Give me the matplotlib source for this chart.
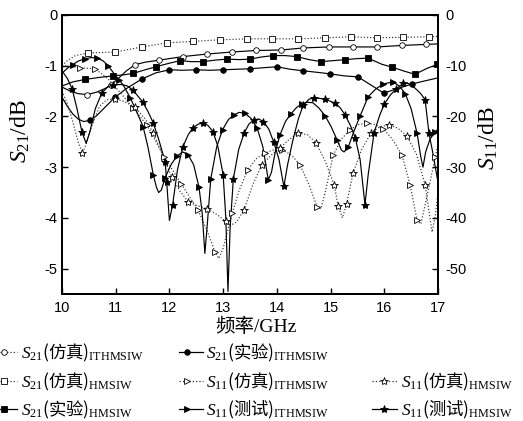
import matplotlib
matplotlib.use("Agg")
import matplotlib.pyplot as plt
from matplotlib.lines import Line2D

plt.rcParams['mathtext.fontset'] = 'custom'
plt.rcParams['mathtext.rm'] = 'Liberation Serif'
plt.rcParams['mathtext.it'] = 'Liberation Serif:italic'
plt.rcParams['font.family'] = ['Liberation Sans']

# === S21 (left axis, dB) ===
# S21 仿真 ITHMSIW (open circle)
s21_sim_ith_x = [10.0, 10.15, 10.3, 10.47, 10.65, 10.8, 10.91, 11.05, 11.2, 11.36, 11.55, 11.81,
                 12.25, 12.7, 13.16, 13.61, 14.08, 14.49, 14.97, 15.42, 15.87, 16.33, 16.78, 17.0]
s21_sim_ith_y = [-1.42, -1.5, -1.55, -1.57, -1.52, -1.45, -1.38, -1.25, -1.1, -0.98, -0.93, -0.89,
                 -0.82, -0.77, -0.73, -0.70, -0.69, -0.65, -0.63, -0.63, -0.63, -0.60, -0.58, -0.57]
s21_sim_ith_mx = [10.47, 10.91, 11.36, 11.81, 12.25, 12.7, 13.16, 13.61, 14.08, 14.49, 14.97, 15.42, 15.87, 16.33, 16.78]
s21_sim_ith_my = [-1.57, -1.38, -0.98, -0.89, -0.82, -0.77, -0.73, -0.70, -0.69, -0.65, -0.63, -0.63, -0.63, -0.60, -0.58]

# S21 仿真 HMSIW (open square)
s21_sim_hm_x = [10.0, 10.1, 10.25, 10.48, 10.99, 11.49, 11.95, 12.44, 12.94, 13.44, 13.91, 14.39,
                14.9, 15.38, 15.87, 16.35, 16.83, 17.0]
s21_sim_hm_y = [-1.0, -0.9, -0.8, -0.75, -0.73, -0.63, -0.55, -0.52, -0.49, -0.47, -0.47, -0.47,
                -0.45, -0.43, -0.45, -0.44, -0.43, -0.42]
s21_sim_hm_mx = s21_sim_hm_x[3:-1]
s21_sim_hm_my = s21_sim_hm_y[3:-1]

# S21 实验 ITHMSIW (filled circle)
s21_exp_ith_x = [10.0, 10.1, 10.2, 10.3, 10.4, 10.52, 10.65, 10.8, 10.99, 11.2, 11.49, 11.75, 12.0,
                 12.25, 12.5, 12.75, 13.0, 13.25, 13.5, 13.75, 14.0, 14.25, 14.49, 14.75, 14.99,
                 15.25, 15.51, 15.75, 15.99, 16.25, 16.52, 16.75, 17.0]
s21_exp_ith_y = [-1.62, -1.8, -1.95, -2.05, -2.1, -2.08, -1.98, -1.82, -1.62, -1.45, -1.26, -1.14, -1.08,
                 -1.09, -1.08, -1.09, -1.08, -1.07, -1.06, -1.04, -1.02, -1.07, -1.1, -1.13, -1.16,
                 -1.2, -1.22, -1.38, -1.54, -1.45, -1.36, -1.3, -1.24]
s21_exp_ith_mx = [10.52, 10.99, 11.49, 12.0, 12.5, 13.0, 13.5, 14.0, 14.49, 14.99, 15.51, 15.99, 16.52]
s21_exp_ith_my = [-2.08, -1.62, -1.26, -1.08, -1.08, -1.08, -1.06, -1.02, -1.1, -1.16, -1.22, -1.54, -1.36]

# S21 实验 HMSIW (filled square)
s21_exp_hm_x = [10.0, 10.2, 10.43, 10.7, 10.95, 11.15, 11.33, 11.55, 11.75, 12.0, 12.2, 12.4, 12.63,
                12.85, 13.07, 13.3, 13.5, 13.7, 13.93, 14.15, 14.37, 14.6, 14.82, 15.05, 15.27,
                15.5, 15.7, 15.95, 16.15, 16.35, 16.57, 16.8, 17.0]
s21_exp_hm_y = [-1.4, -1.32, -1.27, -1.23, -1.2, -1.18, -1.15, -1.08, -1.02, -0.95, -0.9, -0.92, -0.92,
                -0.89, -0.87, -0.88, -0.87, -0.83, -0.8, -0.8, -0.82, -0.88, -0.92, -0.9, -0.88,
                -0.86, -0.85, -0.97, -1.03, -1.1, -1.17, -1.05, -0.97]
s21_exp_hm_mx = [10.43, 10.95, 11.33, 11.75, 12.2, 12.63, 13.07, 13.5, 13.93, 14.37, 14.82, 15.27, 15.7, 16.15, 16.57, 16.98]
s21_exp_hm_my = [-1.27, -1.2, -1.15, -1.02, -0.9, -0.92, -0.87, -0.87, -0.8, -0.82, -0.92, -0.88, -0.85, -1.03, -1.17, -0.97]

# === S11 (right axis, dB) ===
# S11 仿真 ITHMSIW (open triangle)
s11_sim_ith_x = [10.0, 10.15, 10.33, 10.61, 10.85, 11.1, 11.33, 11.58, 11.9, 12.22, 12.53, 12.7, 12.85,
                 12.92, 13.0, 13.17, 13.3, 13.46, 13.62, 13.78, 13.94, 14.1, 14.27, 14.43, 14.6,
                 14.75, 14.82, 14.9, 15.05, 15.2, 15.36, 15.52, 15.68, 15.83, 15.98, 16.15, 16.33,
                 16.48, 16.61, 16.68, 16.78, 16.95, 17.0]
s11_sim_ith_y = [-10.0, -10.1, -10.4, -10.6, -12.5, -15.5, -18.4, -21.7, -27.9, -33.3, -38.4, -42.5, -46.7,
                 -48.0, -46.0, -39.0, -34.5, -30.5, -28.3, -27.2, -26.6, -26.6, -27.6, -29.5, -33.5,
                 -37.8, -38.2, -35.0, -27.6, -24.5, -22.6, -21.6, -21.3, -21.6, -22.4, -24.5, -27.6,
                 -33.5, -40.4, -41.2, -36.5, -28.0, -25.5]
s11_sim_ith_mx = [10.33, 10.61, 11.33, 11.58, 11.9, 12.22, 12.53, 12.85, 13.17, 13.46, 13.78, 14.1, 14.43,
                  14.75, 15.05, 15.36, 15.68, 15.98, 16.33, 16.48, 16.61, 16.95]
s11_sim_ith_my = [-10.4, -10.6, -18.4, -21.7, -27.9, -33.3, -38.4, -46.7, -39.0, -30.5, -27.2, -26.6, -29.5,
                  -37.8, -27.6, -22.6, -21.3, -22.4, -27.6, -33.5, -40.4, -28.0]

# S11 仿真 HMSIW (open star)
s11_sim_hm_x = [10.0, 10.1, 10.2, 10.3, 10.38, 10.45, 10.55, 10.7, 10.83, 10.99, 11.15, 11.36, 11.55,
                11.7, 11.87, 12.04, 12.2, 12.35, 12.52, 12.7, 12.88, 13.05, 13.12, 13.25, 13.39,
                13.55, 13.72, 13.9, 14.06, 14.23, 14.4, 14.57, 14.73, 14.9, 15.07, 15.14, 15.22,
                15.3, 15.42, 15.58, 15.75, 15.92, 16.09, 16.25, 16.42, 16.6, 16.76, 16.89, 16.95, 17.0]
s11_sim_hm_y = [-15.0, -17.5, -21.0, -25.0, -27.2, -25.5, -22.0, -18.0, -16.7, -16.6, -17.0, -18.2, -20.5,
                -23.3, -27.5, -31.9, -34.8, -36.8, -37.6, -38.2, -39.3, -40.7, -41.6, -40.8, -38.4,
                -33.5, -29.5, -27.6, -26.2, -24.5, -23.3, -23.6, -25.2, -28.8, -33.6, -37.6, -40.0,
                -37.2, -31.1, -26.5, -23.3, -22.0, -21.7, -22.3, -23.8, -27.5, -33.5, -42.8, -39.5, -35.0]
s11_sim_hm_mx = [10.38, 10.99, 11.36, 11.7, 12.04, 12.35, 12.7, 13.05, 13.39, 13.72, 14.06, 14.4, 14.73,
                 15.07, 15.14, 15.3, 15.42, 15.75, 16.09, 16.42, 16.76]
s11_sim_hm_my = [-27.2, -16.6, -18.2, -23.3, -31.9, -36.8, -38.2, -40.7, -38.4, -29.5, -26.2, -23.3, -25.2,
                 -33.6, -37.6, -37.2, -31.1, -23.3, -21.7, -23.8, -33.5]

# S11 测试 ITHMSIW (filled triangle)
s11_test_ith_x = [10.0, 10.1, 10.2, 10.3, 10.43, 10.55, 10.65, 10.76, 10.86, 11.0, 11.14, 11.27, 11.4,
                  11.51, 11.6, 11.7, 11.76, 11.8, 11.85, 11.92, 12.03, 12.14, 12.25, 12.35, 12.45,
                  12.55, 12.61, 12.66, 12.7, 12.77, 12.88, 12.99, 13.1, 13.2, 13.3, 13.41, 13.52,
                  13.63, 13.74, 13.84, 13.9, 13.97, 14.06, 14.16, 14.26, 14.37, 14.47, 14.57, 14.67,
                  14.78, 14.9, 15.01, 15.12, 15.2, 15.25, 15.33, 15.44, 15.55, 15.7, 15.84, 15.98,
                  16.16, 16.28, 16.39, 16.5, 16.61, 16.68, 16.72, 16.77, 16.85, 16.95, 17.0]
s11_test_ith_y = [-11.5, -10.5, -9.8, -9.1, -8.6, -8.4, -8.5, -9.0, -10.0, -12.0, -13.8, -16.3, -19.3,
                  -22.0, -26.0, -31.5, -34.0, -35.0, -34.5, -32.1, -29.5, -27.8, -27.0, -27.6, -29.5,
                  -33.9, -39.0, -47.0, -42.0, -32.3, -26.0, -22.6, -20.6, -19.7, -19.2, -19.4, -20.4,
                  -22.2, -26.0, -32.5, -31.0, -27.0, -23.6, -21.0, -19.5, -18.2, -17.5, -17.2, -17.3,
                  -18.3, -19.9, -22.0, -24.6, -26.6, -27.0, -26.0, -22.8, -19.9, -16.1, -14.6, -13.6,
                  -13.2, -14.0, -15.5, -18.5, -23.3, -28.0, -30.0, -27.0, -24.5, -23.0, -22.5]
s11_test_ith_mx = [10.2, 10.43, 10.65, 10.86, 11.06, 11.27, 11.51, 11.7, 11.92, 12.14, 12.35, 12.55, 12.77,
                   12.99, 13.2, 13.41, 13.63, 13.84, 14.06, 14.26, 14.47, 14.9, 15.12, 15.33, 15.55,
                   15.7, 15.98, 16.16, 16.39, 16.61, 16.95]
s11_test_ith_my = [-9.8, -8.6, -8.5, -10.0, -12.8, -16.3, -22.0, -31.5, -32.1, -27.8, -27.6, -33.9, -32.3,
                   -22.6, -19.7, -19.4, -22.2, -32.5, -23.6, -19.5, -17.5, -19.9, -24.6, -26.0, -19.9,
                   -16.1, -13.6, -13.2, -15.5, -23.3, -23.0]

# S11 测试 HMSIW (filled star)
s11_test_hm_x = [10.0, 10.1, 10.19, 10.28, 10.37, 10.45, 10.52, 10.62, 10.74, 10.85, 10.95, 11.1, 11.22,
                 11.32, 11.5, 11.6, 11.7, 11.8, 11.92, 11.95, 12.0, 12.06, 12.15, 12.25, 12.35, 12.44,
                 12.54, 12.63, 12.72, 12.81, 12.9, 13.0, 13.05, 13.09, 13.13, 13.19, 13.29, 13.39,
                 13.48, 13.57, 13.66, 13.75, 13.85, 13.94, 14.04, 14.13, 14.2, 14.3, 14.4, 14.49,
                 14.6, 14.7, 14.9, 15.09, 15.18, 15.27, 15.37, 15.46, 15.55, 15.64, 15.7, 15.81,
                 15.92, 16.0, 16.11, 16.22, 16.35, 16.45, 16.56, 16.67, 16.76, 16.83, 16.9, 17.0]
s11_test_hm_y = [-11.0, -12.5, -14.6, -18.5, -23.0, -25.3, -23.0, -18.5, -15.4, -14.2, -13.8, -13.7, -14.0,
                 -14.8, -17.1, -19.0, -21.3, -24.5, -28.9, -33.0, -40.5, -37.4, -30.5, -26.0, -23.6, -22.2,
                 -21.5, -21.3, -21.8, -23.0, -25.8, -31.5, -40.0, -54.5, -42.0, -32.3, -26.5, -23.3,
                 -21.5, -20.7, -20.5, -21.0, -22.5, -25.0, -28.5, -33.8, -29.5, -24.6, -20.5, -17.8,
                 -16.6, -16.3, -16.6, -17.4, -18.3, -19.7, -21.8, -24.2, -28.5, -37.4, -31.5, -23.2,
                 -19.6, -17.6, -15.8, -14.6, -13.5, -13.5, -14.3, -15.4, -16.7, -23.2, -27.0, -33.0]
s11_test_hm_mx = [10.19, 10.37, 10.74, 10.95, 11.32, 11.5, 11.7, 11.92, 11.95, 12.06, 12.25, 12.44, 12.63,
                  12.81, 13.0, 13.19, 13.39, 13.57, 13.75, 13.94, 14.13, 14.49, 14.7, 14.9, 15.09,
                  15.27, 15.46, 15.64, 15.81, 16.0, 16.22, 16.35, 16.76, 16.83]
s11_test_hm_my = [-14.6, -23.0, -15.4, -13.8, -14.8, -17.1, -21.3, -28.9, -33.0, -37.4, -26.0, -22.2, -21.3,
                  -23.0, -31.5, -32.3, -23.3, -20.7, -21.0, -25.0, -33.8, -17.8, -16.3, -16.6, -17.4,
                  -19.7, -24.2, -37.4, -23.2, -17.6, -14.6, -13.5, -16.7, -23.2]

# --- styles: linestyle, marker, facecolor, size ---
st_circle_o = dict(ls=':', marker='o', mfc='white', ms=4.0)
st_square_o = dict(ls=':', marker='s', mfc='white', ms=4.0)
st_circle_f = dict(ls='-', marker='o', mfc='black', ms=4.0)
st_square_f = dict(ls='-', marker='s', mfc='black', ms=4.0)
st_tri_o = dict(ls=':', marker='>', mfc='white', ms=4.8)
st_star_o = dict(ls=':', marker='*', mfc='white', ms=6.0)
st_tri_f = dict(ls='-', marker='>', mfc='black', ms=4.8)
st_star_f = dict(ls='-', marker='*', mfc='black', ms=6.0)

fig = plt.figure(figsize=(5.23, 4.21), dpi=100)
ax = fig.add_axes([0.1185, 0.3017, 0.719, 0.6627])
ax2 = ax.twinx()


def draw(axis, lx, ly, mx, my, st, line_ls=None):
    ls = line_ls if line_ls else st['ls']
    col = '#333333' if ls == ':' else 'black'
    axis.plot(lx, ly, ls=ls, color=col, lw=0.85, zorder=2)
    axis.plot(mx, my, ls='none', marker=st['marker'], mfc=st['mfc'], mec='black',
              mew=0.6, ms=st['ms'], zorder=3)


draw(ax, s21_sim_ith_x, s21_sim_ith_y, s21_sim_ith_mx, s21_sim_ith_my, st_circle_o, line_ls='-')
draw(ax, s21_sim_hm_x, s21_sim_hm_y, s21_sim_hm_mx, s21_sim_hm_my, st_square_o)
draw(ax, s21_exp_ith_x, s21_exp_ith_y, s21_exp_ith_mx, s21_exp_ith_my, st_circle_f)
draw(ax, s21_exp_hm_x, s21_exp_hm_y, s21_exp_hm_mx, s21_exp_hm_my, st_square_f)
draw(ax2, s11_sim_ith_x, s11_sim_ith_y, s11_sim_ith_mx, s11_sim_ith_my, st_tri_o)
draw(ax2, s11_sim_hm_x, s11_sim_hm_y, s11_sim_hm_mx, s11_sim_hm_my, st_star_o)
draw(ax2, s11_test_ith_x, s11_test_ith_y, s11_test_ith_mx, s11_test_ith_my, st_tri_f)
draw(ax2, s11_test_hm_x, s11_test_hm_y, s11_test_hm_mx, s11_test_hm_my, st_star_f)

ax.set_xlim(10, 17)
ax.set_ylim(-5.5, 0)
ax2.set_ylim(-55, 0)
ax.set_xticks(range(10, 18))
ax.set_yticks([-5, -4, -3, -2, -1, 0])
ax2.set_yticks([-50, -40, -30, -20, -10, 0])
ax.set_yticklabels(['-5', '-4', '-3', '-2', '-1', '0'])
ax2.set_yticklabels(['-50', '-40', '-30', '-20', '-10', '0'])

for a in (ax, ax2):
    for sp in a.spines.values():
        sp.set_linewidth(1.4)
ax.tick_params(axis='both', direction='in', length=4, width=1, labelsize=10.5, top=False, right=False)
ax.tick_params(axis='x', pad=5)
ax.tick_params(axis='y', pad=3)
ax2.tick_params(axis='y', direction='in', length=4, width=1, labelsize=10.5, pad=5)

ax.set_ylabel(r'$S_{21}$/dB', fontsize=17, family='Liberation Serif')
ax.yaxis.set_label_coords(-0.08, 0.585)
ax2.set_ylabel(r'$S_{11}$/dB', fontsize=17, family='Liberation Serif')
ax2.yaxis.set_label_coords(1.104, 0.56)
ax.set_xlabel('频率/GHz', fontsize=14, family=['Liberation Serif', 'Noto Sans CJK SC'])
ax.xaxis.set_label_coords(0.516, -0.085)

# --- legend below the plot, drawn by hand in figure pixels ---
W, H = 523.0, 421.0
legend_items = [
    (0, 0, st_circle_o, r'$S_{21}$(仿真)$_{\mathrm{ITHMSIW}}$'),
    (1, 0, st_circle_f, r'$S_{21}$(实验)$_{\mathrm{ITHMSIW}}$'),
    (0, 1, st_square_o, r'$S_{21}$(仿真)$_{\mathrm{HMSIW}}$'),
    (1, 1, st_tri_o, r'$S_{11}$(仿真)$_{\mathrm{ITHMSIW}}$'),
    (2, 1, st_star_o, r'$S_{11}$(仿真)$_{\mathrm{HMSIW}}$'),
    (0, 2, st_square_f, r'$S_{21}$(实验)$_{\mathrm{HMSIW}}$'),
    (1, 2, st_tri_f, r'$S_{11}$(测试)$_{\mathrm{ITHMSIW}}$'),
    (2, 2, st_star_f, r'$S_{11}$(测试)$_{\mathrm{HMSIW}}$'),
]
col_h0 = [0, 179, 372]
col_h1 = [17, 203, 397]
col_mk = [4, 187, 384]
col_tx = [21, 206, 401]
row_y = [352, 381, 409]

for c, r, st, lab in legend_items:
    y = 1 - row_y[r] / H
    lcol = '#333333' if st['ls'] == ':' else 'black'
    fig.add_artist(Line2D([col_h0[c] / W, col_h1[c] / W], [y, y], transform=fig.transFigure,
                          ls=st['ls'], color=lcol, lw=0.9))
    fig.add_artist(Line2D([col_mk[c] / W], [y], transform=fig.transFigure, ls='none',
                          marker=st['marker'], mfc=st['mfc'], mec='black', mew=0.6, ms=st['ms']))
    fig.text(col_tx[c] / W, 1 - (row_y[r] + 6) / H, lab, fontsize=12.5,
             family='Noto Sans CJK SC', ha='left', va='baseline')

fig.savefig('out.png', dpi=100)
